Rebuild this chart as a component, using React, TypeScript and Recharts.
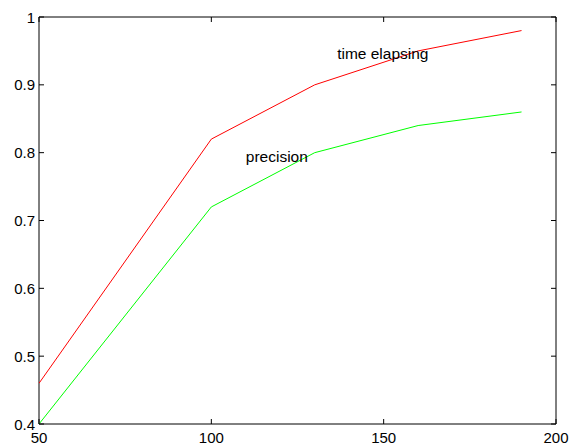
import React from 'react';
import { LineChart, Line, XAxis, YAxis, ReferenceArea, ReferenceDot } from 'recharts';

const xValues = [50, 100, 130, 160, 190];
const timeElapsing = [0.46, 0.82, 0.9, 0.95, 0.98];
const precision = [0.4, 0.72, 0.8, 0.84, 0.86];
const xTicks = [50, 100, 150, 200];
const yTicks = [0.4, 0.5, 0.6, 0.7, 0.8, 0.9, 1];
const yTickLabels = ['0.4', '0.5', '0.6', '0.7', '0.8', '0.9', '1'];

const data = xValues.map((x, i) => ({ x, time: timeElapsing[i], prec: precision[i] }));

const FONT = '"Liberation Sans", Arial, Helvetica, sans-serif';
const PLOT_LEFT = 39;
const PLOT_RIGHT = 556;
const PLOT_TOP = 17;
const PLOT_BOTTOM = 424;
const TICK = 5;

const XTick = (props: any) => {
  const { x, payload } = props;
  return (
    <g>
      <line x1={x} x2={x} y1={PLOT_BOTTOM} y2={PLOT_BOTTOM - TICK} stroke="#000" />
      <line x1={x} x2={x} y1={PLOT_TOP} y2={PLOT_TOP + TICK} stroke="#000" />
      <text x={x} y={437.5} textAnchor="middle" dominantBaseline="central" fontSize={15} fontFamily={FONT} fill="#000">
        {payload.value}
      </text>
    </g>
  );
};

const YTick = (props: any) => {
  const { y, payload } = props;
  const idx = yTicks.indexOf(payload.value);
  const label = idx >= 0 ? yTickLabels[idx] : String(payload.value);
  return (
    <g>
      <line x1={PLOT_LEFT} x2={PLOT_LEFT + TICK} y1={y} y2={y} stroke="#000" />
      <line x1={PLOT_RIGHT} x2={PLOT_RIGHT - TICK} y1={y} y2={y} stroke="#000" />
      <text x={35} y={y} textAnchor="end" dominantBaseline="central" fontSize={15} fontFamily={FONT} fill="#000">
        {label}
      </text>
    </g>
  );
};

export default function App() {
  return (
    <div style={{ position: 'absolute', left: 0, top: 0, width: 570, height: 445, background: '#fff' }}>
      <LineChart
        width={570}
        height={445}
        data={data}
        margin={{ top: PLOT_TOP, right: 570 - PLOT_RIGHT, left: 0, bottom: 0 }}
      >
        <XAxis
          dataKey="x"
          type="number"
          domain={[50, 200]}
          ticks={xTicks}
          allowDataOverflow
          height={445 - PLOT_BOTTOM}
          axisLine={false}
          tickLine={false}
          tick={<XTick />}
          interval={0}
        />
        <YAxis
          type="number"
          domain={[0.4, 1]}
          ticks={yTicks}
          allowDataOverflow
          width={PLOT_LEFT}
          axisLine={false}
          tickLine={false}
          tick={<YTick />}
          interval={0}
        />
        <ReferenceArea x1={50} x2={200} y1={0.4} y2={1} fill="none" stroke="#000" strokeWidth={1} />
        <Line type="linear" dataKey="time" stroke="#ff0000" strokeWidth={1} dot={false} isAnimationActive={false} />
        <Line type="linear" dataKey="prec" stroke="#00ff00" strokeWidth={1} dot={false} isAnimationActive={false} />
        <ReferenceDot
          x={136.5}
          y={0.946}
          r={0}
          fill="none"
          stroke="none"
          label={{ value: 'time elapsing', position: 'right', offset: 0, fontSize: 15.5, fontFamily: FONT, fill: '#000' }}
        />
        <ReferenceDot
          x={110}
          y={0.795}
          r={0}
          fill="none"
          stroke="none"
          label={{ value: 'precision', position: 'right', offset: 0, fontSize: 15.5, fontFamily: FONT, fill: '#000' }}
        />
      </LineChart>
    </div>
  );
}
